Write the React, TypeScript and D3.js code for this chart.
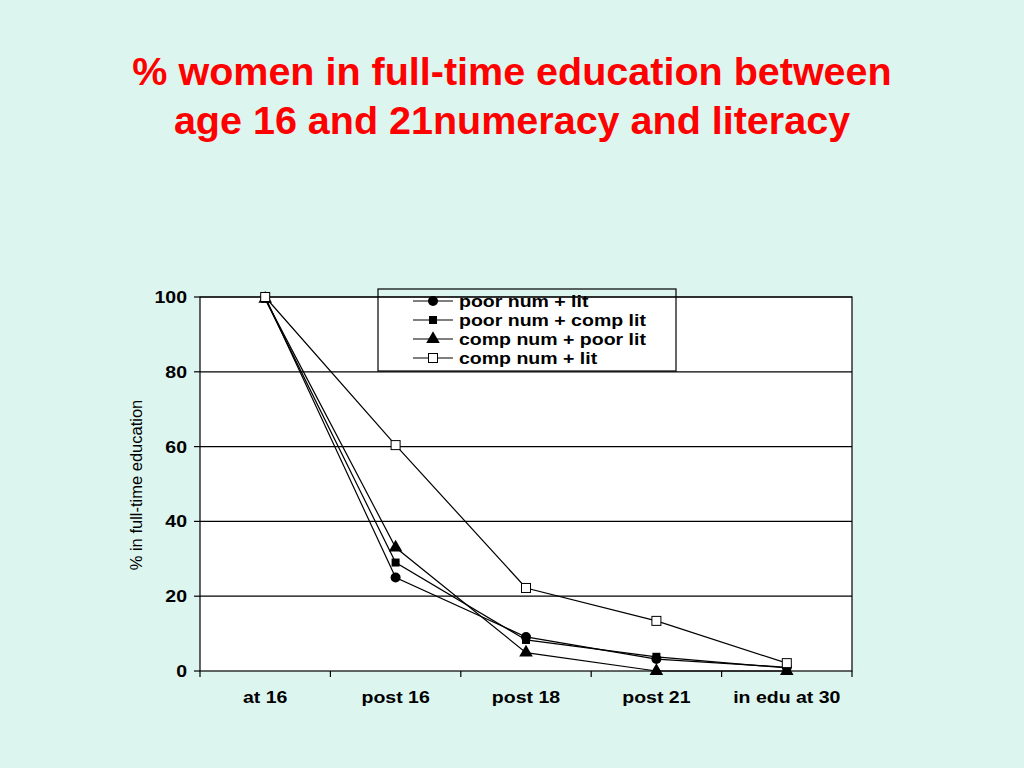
import React from "react";
import * as d3 from "d3";

const categories = ["at 16", "post 16", "post 18", "post 21", "in edu at 30"];
const seriesNames = ["poor num + lit", "poor num + comp lit", "comp num + poor lit", "comp num + lit"];
const poorNumLit = [100, 25, 9.1, 3.2, 1];
const poorNumCompLit = [99.5, 29, 8.3, 3.8, 0.8];
const compNumPoorLit = [99.5, 33, 4.9, 0, 0];
const compNumLit = [100, 60.4, 22.2, 13.4, 2.1];
const yTicks = [0, 20, 40, 60, 80, 100];
const markers = ["circle", "square", "triangle", "openSquare"];

const seriesValues = [poorNumLit, poorNumCompLit, compNumPoorLit, compNumLit];

const W = 1024, H = 768;
const left = 200, right = 852, top = 297, bottom = 671;
const font = "'Liberation Sans', Arial, sans-serif";
const SX = 1.22;

function Marker({ type, x, y }: { type: string; x: number; y: number }) {
  if (type === "circle") return <circle cx={x} cy={y} r={5} fill="#000" />;
  if (type === "square") return <rect x={x - 4} y={y - 4} width={8} height={8} fill="#000" />;
  if (type === "triangle") {
    const p = d3.symbol().type(d3.symbolTriangle).size(80)();
    return <path d={p || ""} transform={`translate(${x},${y})`} fill="#000" />;
  }
  return <rect x={x - 4.5} y={y - 4.5} width={9} height={9} fill="#fff" stroke="#000" strokeWidth={1} />;
}

function WText({ x, y, anchor, children }: { x: number; y: number; anchor?: string; children: React.ReactNode }) {
  return (
    <text transform={`translate(${x},${y}) scale(${SX},1)`} textAnchor={anchor || "start"} fontFamily={font} fontWeight="bold" fontSize={16} fill="#000">
      {children}
    </text>
  );
}

export default function App() {
  const x = d3.scaleBand().domain(categories).range([left, right]);
  const y = d3.scaleLinear().domain([0, 100]).range([bottom, top]);
  const cx = (c: string) => (x(c) as number) + x.bandwidth() / 2;
  const line = d3.line<number>().x((_, i) => cx(categories[i])).y((v) => y(v));
  const legendX = 378, legendY = 289, legendW = 298, legendH = 82;
  return (
    <svg width={W} height={H} style={{ position: "absolute", left: 0, top: 0 }}>
      <rect x={0} y={0} width={W} height={H} fill="#dcf5ef" />
      <text x={512} y={85} textAnchor="middle" fill="#ff0000" fontFamily={font} fontWeight="bold" fontSize={39.5}>
        % women in full-time education between
      </text>
      <text x={512} y={134} textAnchor="middle" fill="#ff0000" fontFamily={font} fontWeight="bold" fontSize={39.5}>
        age 16 and 21numeracy and literacy
      </text>
      <rect x={left} y={top} width={right - left} height={bottom - top} fill="#fff" />
      {yTicks.filter((t) => t > 0).map((t) => (
        <line key={t} x1={left} x2={right} y1={y(t)} y2={y(t)} stroke="#000" strokeWidth={1.2} />
      ))}
      <rect x={left} y={top} width={right - left} height={bottom - top} fill="none" stroke="#000" strokeWidth={1.2} />
      {yTicks.map((t) => (
        <g key={t}>
          <line x1={left - 6} x2={left} y1={y(t)} y2={y(t)} stroke="#000" strokeWidth={1.2} />
          <WText x={187} y={y(t) + 6} anchor="end">{t}</WText>
        </g>
      ))}
      {categories.map((c, i) => (
        <g key={c}>
          <line x1={(x(c) as number)} x2={(x(c) as number)} y1={bottom} y2={bottom + 6} stroke="#000" strokeWidth={1.2} />
          <WText x={cx(c)} y={703} anchor="middle">{c}</WText>
          {i === categories.length - 1 && (
            <line x1={right} x2={right} y1={bottom} y2={bottom + 6} stroke="#000" strokeWidth={1.2} />
          )}
        </g>
      ))}
      <text transform={`translate(142,485) rotate(-90)`} textAnchor="middle" fontFamily={font} fontSize={16.5}>
        % in full-time education
      </text>
      {seriesValues.map((vals, s) => (
        <path key={s} d={line(vals) || ""} fill="none" stroke="#000" strokeWidth={1.2} />
      ))}
      {seriesValues.map((vals, s) =>
        vals.map((v, i) => <Marker key={`${s}-${i}`} type={markers[s]} x={cx(categories[i])} y={y(v)} />)
      )}
      <rect x={legendX} y={legendY} width={legendW} height={legendH} fill="none" stroke="#000" strokeWidth={1.2} />
      {seriesNames.map((n, i) => {
        const ly = 301 + i * 19;
        return (
          <g key={n}>
            <line x1={413} x2={453} y1={ly} y2={ly} stroke="#000" strokeWidth={1.2} />
            <Marker type={markers[i]} x={433} y={ly} />
            <WText x={459} y={ly + 6}>{n}</WText>
          </g>
        );
      })}
    </svg>
  );
}
